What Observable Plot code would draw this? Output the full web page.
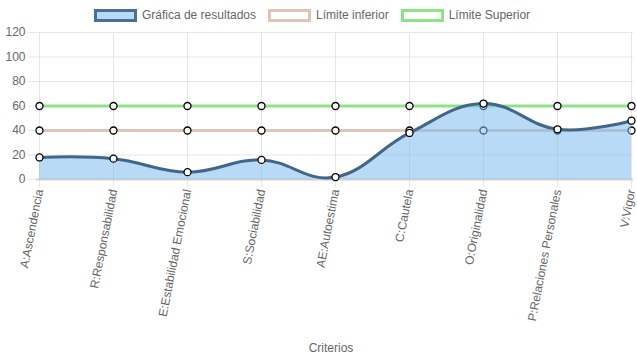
<!DOCTYPE html>
<html>
<head>
<meta charset="utf-8">
<script src="https://cdn.jsdelivr.net/npm/d3@7"></script>
<script src="https://cdn.jsdelivr.net/npm/@observablehq/plot@0.6"></script>
<style>
  body { margin: 0; background: #fff; font-family: "Liberation Sans", Arial, Helvetica, sans-serif; }
  #legend { height: 25px; display: flex; justify-content: center; align-items: center; font-size: 12px; color: #666; padding-right: 13px; padding-top: 5px; box-sizing: border-box; }
  .item { display: flex; align-items: center; margin: 0 6px; }
  .box { width: 43px; height: 13px; box-sizing: border-box; border: 3px solid; margin-right: 5px; }
  #chart svg { display: block; }
</style>
</head>
<body>
<div id="legend"></div>
<div id="chart"></div>
<script>
const categorias = ["A:Ascendencia", "R:Responsabilidad", "E:Estabilidad Emocional", "S:Sociabilidad", "AE:Autoestima", "C:Cautela", "O:Originalidad", "P:Relaciones Personales", "V:Vigor"];
const resultados = [18, 17, 6, 16, 2, 38, 62, 41, 48];
const limiteInferior = [40, 40, 40, 40, 40, 40, 40, 40, 40];
const limiteSuperior = [60, 60, 60, 60, 60, 60, 60, 60, 60];
const yTicks = [0, 20, 40, 60, 80, 100, 120];
const series = ["Gráfica de resultados", "Límite inferior", "Límite Superior"];

const colors = {
  resLine: "#41668a",
  resFill: "#7fbbef",
  inf: "#dfc5b9",
  sup: "#8ee386"
};

// legend
const legendStyles = [
  {fill: "#b9daf6", stroke: "#4a6f92"},
  {fill: "#ffffff", stroke: colors.inf},
  {fill: "#ffffff", stroke: colors.sup}
];
const legend = document.getElementById("legend");
series.forEach((s, i) => {
  const it = document.createElement("div");
  it.className = "item";
  const b = document.createElement("div");
  b.className = "box";
  b.style.background = legendStyles[i].fill;
  b.style.borderColor = legendStyles[i].stroke;
  const t = document.createElement("span");
  t.textContent = s;
  it.appendChild(b); it.appendChild(t);
  legend.appendChild(it);
});

const rows = categorias.map((c, i) => ({c, res: resultados[i], inf: limiteInferior[i], sup: limiteSuperior[i]}));
const curve = "cardinal";
const tension = -0.2;

const chart = Plot.plot({
  width: 637,
  height: 334,
  marginTop: 7,
  marginBottom: 180,
  marginLeft: 36,
  marginRight: 4,
  style: {fontFamily: "'Liberation Sans', Arial, Helvetica, sans-serif", fontSize: "12px", color: "#666", background: "#fff"},
  x: {type: "point", domain: categorias, padding: 0},
  y: {domain: [0, 120]},
  marks: [
    Plot.gridY(yTicks, {stroke: "#e6e6e6", strokeOpacity: 1}),
    Plot.gridX(categorias, {stroke: "#e6e6e6", strokeOpacity: 1}),
    Plot.axisY(yTicks, {tickSize: 8, tickPadding: 3, stroke: "#e6e6e6", fill: "#666", label: null}),
    Plot.axisX(categorias, {tickSize: 8, tickPadding: 2, tickRotate: -79, stroke: "#e6e6e6", fill: "#666", label: null}),
    Plot.ruleY([0], {stroke: "#cfcfcf", strokeWidth: 2}),
    Plot.lineY(rows, {x: "c", y: "sup", stroke: colors.sup, strokeWidth: 3}),
    Plot.dot(rows, {x: "c", y: "sup", r: 3.5, fill: "#fff", stroke: "#000", strokeWidth: 1.3}),
    Plot.lineY(rows, {x: "c", y: "inf", stroke: colors.inf, strokeWidth: 3}),
    Plot.dot(rows, {x: "c", y: "inf", r: 3.5, fill: "#fff", stroke: "#000", strokeWidth: 1.3}),
    Plot.areaY(rows, {x: "c", y: "res", fill: colors.resFill, fillOpacity: 0.55, curve, tension}),
    Plot.lineY(rows, {x: "c", y: "res", stroke: colors.resLine, strokeWidth: 3, curve, tension}),
    Plot.dot(rows, {x: "c", y: "res", r: 3.5, fill: "#fff", stroke: "#000", strokeWidth: 1.3}),
    Plot.text(["Criterios"], {frameAnchor: "bottom", dy: 172, dx: -4, fill: "#666", fontSize: 12})
  ]
});
document.getElementById("chart").appendChild(chart);
</script>
</body>
</html>
